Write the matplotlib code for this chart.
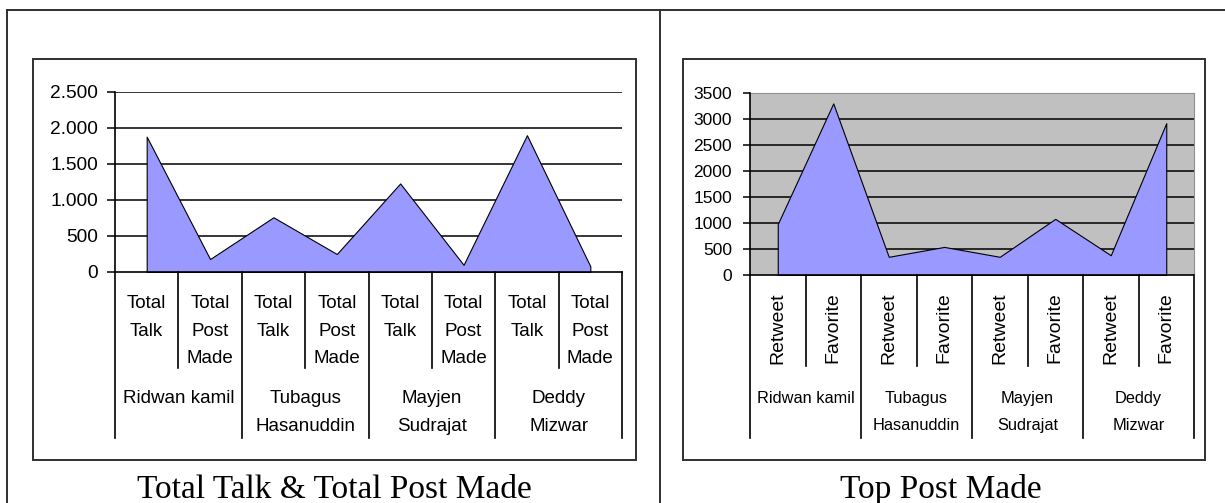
import matplotlib
matplotlib.use("Agg")
import matplotlib.pyplot as plt
from matplotlib.transforms import blended_transform_factory
from matplotlib.patches import Rectangle
import numpy as np

# ---------------- data ----------------
groups = ["Ridwan kamil", "Tubagus\nHasanuddin", "Mayjen\nSudrajat", "Deddy\nMizwar"]

left_categories = ["Total\nTalk", "Total\nPost\nMade"] * 4
left_values = [1880, 180, 760, 250, 1230, 100, 1900, 80]
left_yticks = [0, 500, 1000, 1500, 2000, 2500]
left_yticklabels = ["0", "500", "1.000", "1.500", "2.000", "2.500"]
left_title = "Total Talk & Total Post Made"

right_categories = ["Retweet", "Favorite"] * 4
right_values = [980, 3300, 350, 540, 350, 1080, 380, 2920]
right_yticks = [0, 500, 1000, 1500, 2000, 2500, 3000, 3500]
right_yticklabels = [str(v) for v in right_yticks]
right_title = "Top Post Made"

# ---------------- styling ----------------
W, H = 1225, 503
FILL = "#9999FF"
SANS = ["Liberation Sans", "DejaVu Sans"]
SERIF = ["Liberation Serif", "DejaVu Serif"]
FRAME = "#303030"

fig = plt.figure(figsize=(W / 100, H / 100), dpi=100)
ov = fig.add_axes([0, 0, 1, 1])
ov.set_xlim(0, W)
ov.set_ylim(H, 0)
ov.axis("off")

# outer table frame
ov.plot([7, 7], [10, H], color=FRAME, lw=1.4)
ov.plot([7, W], [10, 10], color=FRAME, lw=1.4)
ov.plot([660, 660], [10, H], color=FRAME, lw=1.4)
# chart boxes
ov.add_patch(Rectangle((33, 59), 603, 401, fill=False, ec=FRAME, lw=1.4))
ov.add_patch(Rectangle((683, 59), 522, 401, fill=False, ec=FRAME, lw=1.4))


def px_axes(x0, y0, x1, y1):
    return fig.add_axes([x0 / W, 1 - y1 / H, (x1 - x0) / W, (y1 - y0) / H])


def build(ax, values, cats, yticks, yticklabels, ymax, tickfs, catfs, rotate,
          grpfs, axis_y, sub_end, grp_end, cat_base, cat_pitch, grp_base,
          grp_pitch, facecolor):
    n = len(values)
    x = np.arange(n) + 0.5
    ax.set_facecolor(facecolor)
    ax.set_xlim(0, n)
    ax.set_ylim(0, ymax)
    for yv in yticks[1:]:
        ax.axhline(yv, color="black", lw=1.1, zorder=1)
    ax.fill_between(x, values, 0, facecolor=FILL, edgecolor="black",
                    lw=0.8, zorder=2)
    ax.set_xticks([])
    ax.set_yticks(yticks)
    ax.set_yticklabels(yticklabels, family=SANS, fontsize=tickfs)
    ax.tick_params(axis="y", length=6, width=1.1, pad=6, color="black")
    ax.spines["left"].set_linewidth(1.2)
    ax.spines["bottom"].set_linewidth(1.2)
    ax.spines["left"].set_zorder(3)
    ax.spines["bottom"].set_zorder(3)

    tr = blended_transform_factory(ax.transData, ov.transData)
    # separators
    for b in range(n + 1):
        end = grp_end if b % 2 == 0 else sub_end
        ax.plot([b, b], [axis_y, end], transform=tr, color="black",
                lw=1.2, clip_on=False)
    # category labels
    for xi, lab in zip(x, cats):
        if rotate:
            ax.text(xi, 292, lab, transform=tr, rotation=90, ha="center",
                    va="top", family=SANS, fontsize=catfs, clip_on=False)
        else:
            for j, line in enumerate(lab.split("\n")):
                ax.text(xi, cat_base + j * cat_pitch, line, transform=tr,
                        ha="center", va="baseline", family=SANS,
                        fontsize=catfs, clip_on=False)
    # group labels
    for gi, g in enumerate(groups):
        gx = 2 * gi + 1
        for j, line in enumerate(g.split("\n")):
            ax.text(gx, grp_base + j * grp_pitch, line, transform=tr,
                    ha="center", va="baseline", family=SANS,
                    fontsize=grpfs, clip_on=False)


# ---------------- left chart ----------------
axL = px_axes(115, 92, 622, 272)
for s in ["top", "right"]:
    axL.spines[s].set_visible(False)
build(axL, left_values, left_categories, left_yticks, left_yticklabels, 2500,
      13.8, 13.5, False, 13.5, 272, 368, 438, 308, 27.5, 403, 28, "white")
ov.text(334, 498, left_title, ha="center", va="baseline", family=SERIF,
        fontsize=24)

# ---------------- right chart ----------------
axR = px_axes(750, 93, 1194, 275)
axR.spines["top"].set_color("#909090")
axR.spines["right"].set_color("#909090")
build(axR, right_values, right_categories, right_yticks, right_yticklabels,
      3500, 12.5, 14, True, 11.8, 275, 366, 438, 0, 0, 403, 27, "#C0C0C0")
axR.tick_params(axis="y", length=5, pad=8)
ov.text(941, 498, right_title, ha="center", va="baseline", family=SERIF,
        fontsize=24)

fig.savefig("out.png", dpi=100)
